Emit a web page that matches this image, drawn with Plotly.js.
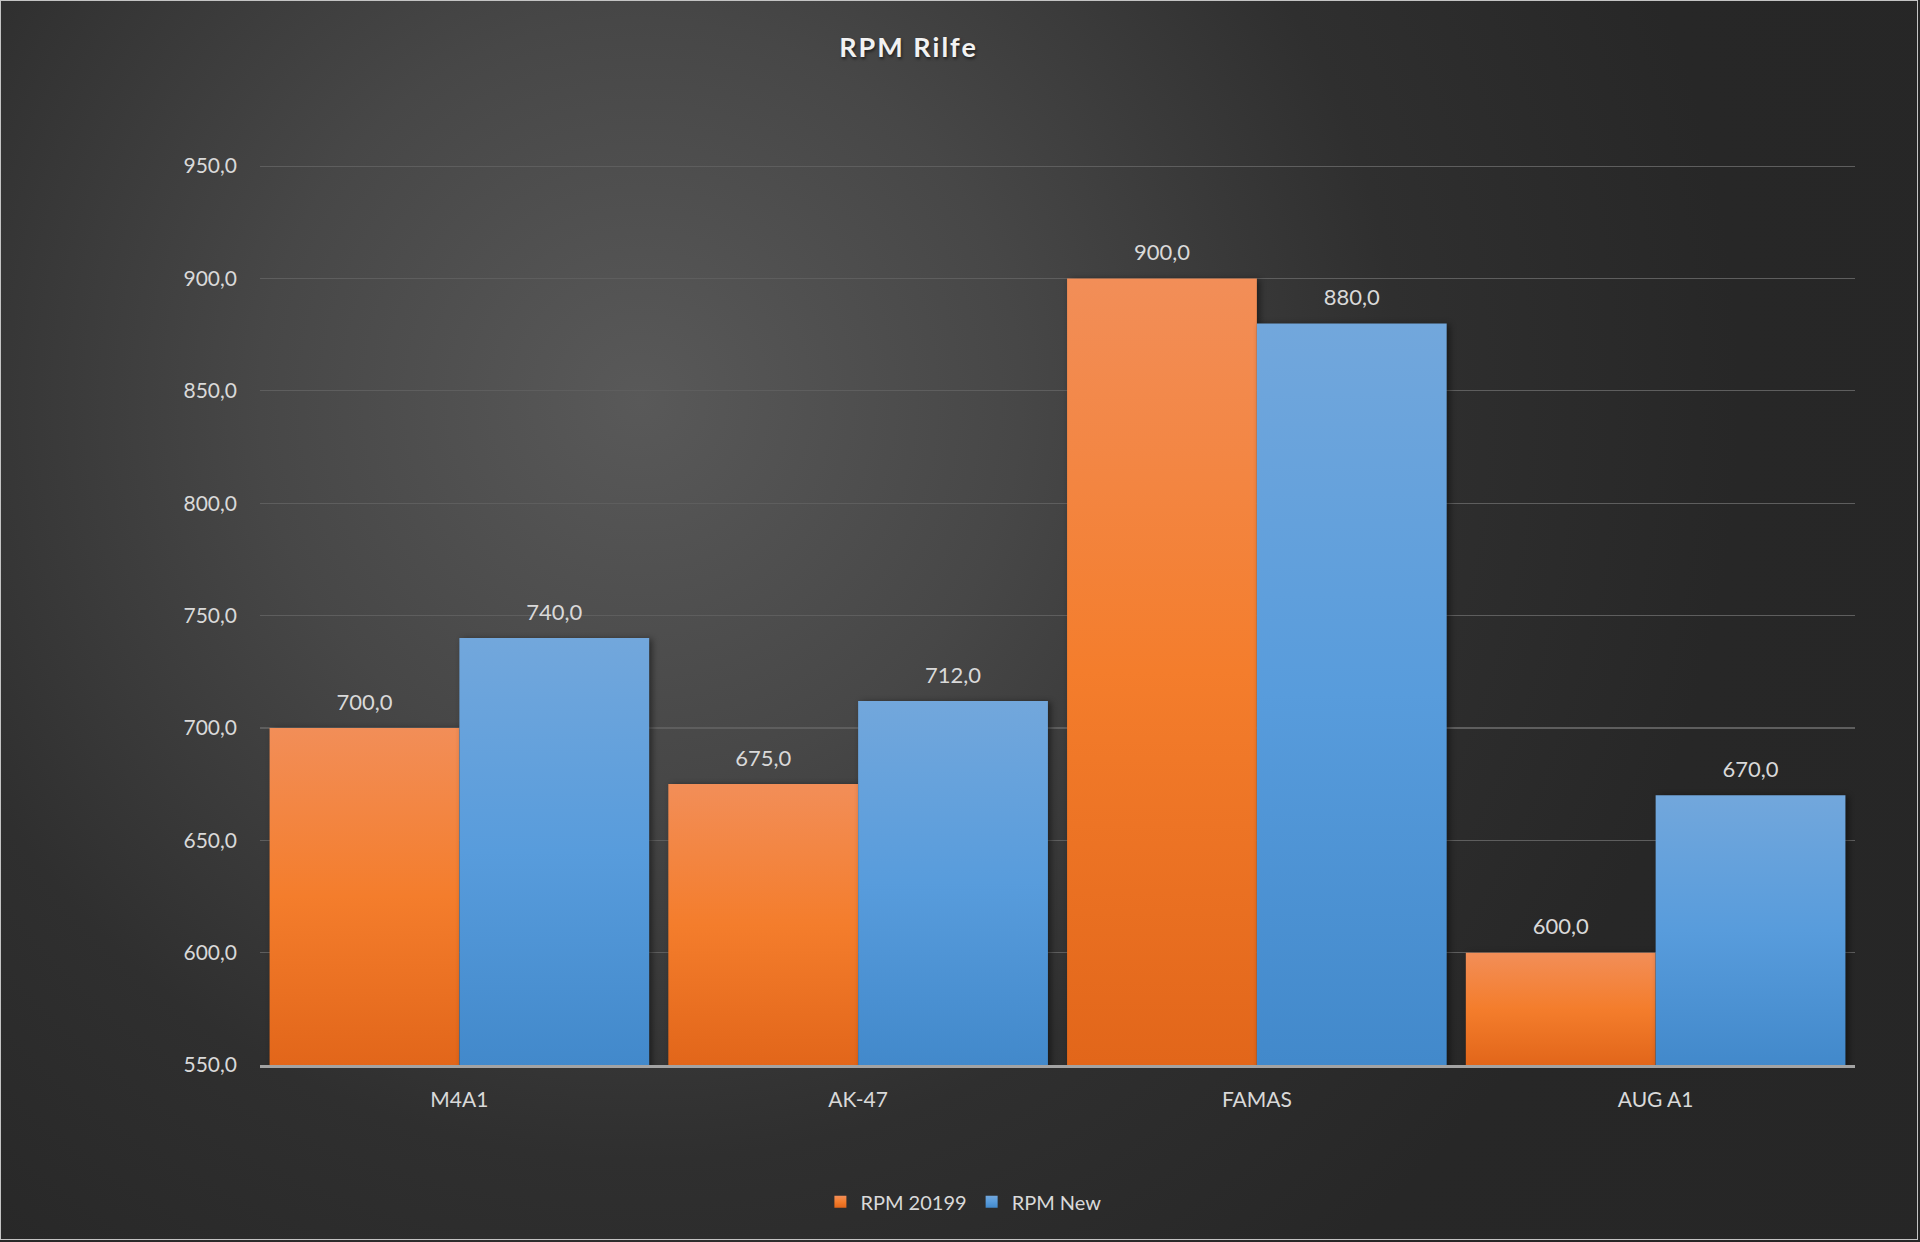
<!DOCTYPE html>
<html>
<head>
<meta charset="utf-8">
<script src="https://cdn.plot.ly/plotly-3.0.1.min.js"></script>
<style>
  html, body { margin: 0; padding: 0; background: #ffffff; }
  #wrap {
    position: absolute; left: 0; top: 0; width: 1920px; height: 1242px;
    background: radial-gradient(circle at 640px 400px, #595959 0px, #474747 380px, #2f2f2f 760px, #272727 1100px, #262626 1600px);
    overflow: hidden;
  }
  #frame {
    position: absolute; left: 0; top: 0; width: 1918px; height: 1240px;
    border: 1px solid #c4c4c4; box-sizing: border-box; pointer-events: none;
  }
  #chart { position: absolute; left: 0; top: 0; width: 1920px; height: 1242px; }
</style>
</head>
<body>
<svg id="gradsvg" width="0" height="0" style="position:absolute">
  <defs id="gradDefs"></defs>
</svg>
<div id="wrap"><div id="chart"></div><div id="frame"></div></div>
<script>
// ---- data ----
const categories = ['M4A1', 'AK-47', 'FAMAS', 'AUG A1'];
const seriesNames = ['RPM 20199', 'RPM New'];
const rpm20199 = [700, 675, 900, 600];
const rpmNew = [740, 712, 880, 670];
const yTickValues = [550, 600, 650, 700, 750, 800, 850, 900, 950];

// ---- styles ----
const textColor = '#d9d9d9';
const fontFamily = 'Lato, "Open Sans", sans-serif';
const orange = '#f47d2c';
const blue = '#589cdc';
const gradStops = [
  ['#f28e58', '#f47d2c', '#e2661a'],
  ['#72a7dc', '#589cdc', '#4289cb']
];
const gap = 0.048;

function barTrace(name, values, color, group) {
  return {
    type: 'bar', name: name, x: categories, y: values,
    offsetgroup: group, alignmentgroup: 'a',
    marker: { color: color, line: { width: 0 } },
    hoverinfo: 'skip'
  };
}
function labelTrace(values, group) {
  return {
    type: 'scatter', mode: 'markers+text', x: categories, y: values,
    offsetgroup: group, alignmentgroup: 'a',
    texttemplate: '%{y:.1f}',
    textposition: 'top center',
    textfont: { family: fontFamily, size: 22, color: textColor },
    marker: { size: 19, color: 'rgba(0,0,0,0)' },
    showlegend: false, hoverinfo: 'skip', cliponaxis: false
  };
}

const data = [
  barTrace(seriesNames[0], rpm20199, orange, 'g1'),
  barTrace(seriesNames[1], rpmNew, blue, 'g2'),
  labelTrace(rpm20199, 'g1'),
  labelTrace(rpmNew, 'g2')
];

const layout = {
  width: 1920, height: 1242,
  paper_bgcolor: 'rgba(0,0,0,0)', plot_bgcolor: 'rgba(0,0,0,0)',
  separators: ',.',
  margin: { l: 260, r: 65, t: 165, b: 176.5 },
  barmode: 'group', bargap: gap, bargroupgap: 0,
  scattermode: 'group', scattergap: gap,
  font: { family: fontFamily, color: textColor, size: 20 },
  title: {
    text: 'RPM Rilfe',
    font: { family: fontFamily, size: 27, color: '#f2f2f2', weight: 'bold',
            shadow: '1px 2px 3px rgba(0,0,0,0.55)' },
    xref: 'container', yref: 'container', x: 0.4732, y: 0.962,
    xanchor: 'center', yanchor: 'middle'
  },
  xaxis: {
    type: 'category', showgrid: false, zeroline: false,
    showline: true, linecolor: '#a3a3a3', linewidth: 2.5,
    ticks: '', ticklabelstandoff: 14,
    tickfont: { family: fontFamily, size: 21, color: textColor }
  },
  yaxis: {
    range: [550, 950.5], tickvals: yTickValues, tickformat: '.1f',
    showgrid: true, gridcolor: '#5e5e5e', gridwidth: 1.2,
    zeroline: false, showline: false, ticks: '', ticklabelstandoff: 22,
    tickfont: { family: fontFamily, size: 21, color: textColor }
  },
  legend: {
    orientation: 'h', x: 0.441, xanchor: 'center', y: -0.152, yanchor: 'middle',
    font: { family: fontFamily, size: 20, color: textColor },
    bgcolor: 'rgba(0,0,0,0)', itemclick: false
  },
  showlegend: true
};

function makeGradient(id, stops, userSpace, y1, y2) {
  const ns = 'http://www.w3.org/2000/svg';
  const g = document.createElementNS(ns, 'linearGradient');
  g.setAttribute('id', id);
  g.setAttribute('x1', '0'); g.setAttribute('x2', '0');
  if (userSpace) {
    g.setAttribute('gradientUnits', 'userSpaceOnUse');
    g.setAttribute('y1', String(y1)); g.setAttribute('y2', String(y2));
  } else {
    g.setAttribute('y1', '0'); g.setAttribute('y2', '1');
  }
  [0, 0.5, 1].forEach(function (o, k) {
    const s = document.createElementNS(ns, 'stop');
    s.setAttribute('offset', String(o));
    s.setAttribute('stop-color', stops[k]);
    g.appendChild(s);
  });
  document.getElementById('gradDefs').appendChild(g);
}

Plotly.newPlot('chart', data, layout, { displayModeBar: false, staticPlot: true }).then(function (gd) {
  const plotH = gd._fullLayout._size.h;
  const traces = gd.querySelectorAll('.barlayer .trace');
  traces.forEach(function (t, i) {
    t.querySelectorAll('path').forEach(function (p, j) {
      const bb = p.getBBox();
      const top = Math.max(bb.y, 0);
      const bottom = Math.min(bb.y + bb.height, plotH);
      const id = 'gb' + i + '_' + j;
      makeGradient(id, gradStops[i % 2], true, top, bottom);
      p.style.fill = 'url(#' + id + ')';
      p.style.filter = 'drop-shadow(3px 1px 3px rgba(0,0,0,0.45))';
    });
  });
  const legendItems = gd.querySelectorAll('.legend .traces');
  legendItems.forEach(function (t, i) {
    const id = 'gl' + i;
    makeGradient(id, gradStops[i % 2], false);
    t.querySelectorAll('.legendpoints path').forEach(function (p) {
      p.style.fill = 'url(#' + id + ')';
    });
  });
  const title = gd.querySelector('.gtitle');
  if (title) title.style.letterSpacing = '2px';
});
</script>
</body>
</html>
